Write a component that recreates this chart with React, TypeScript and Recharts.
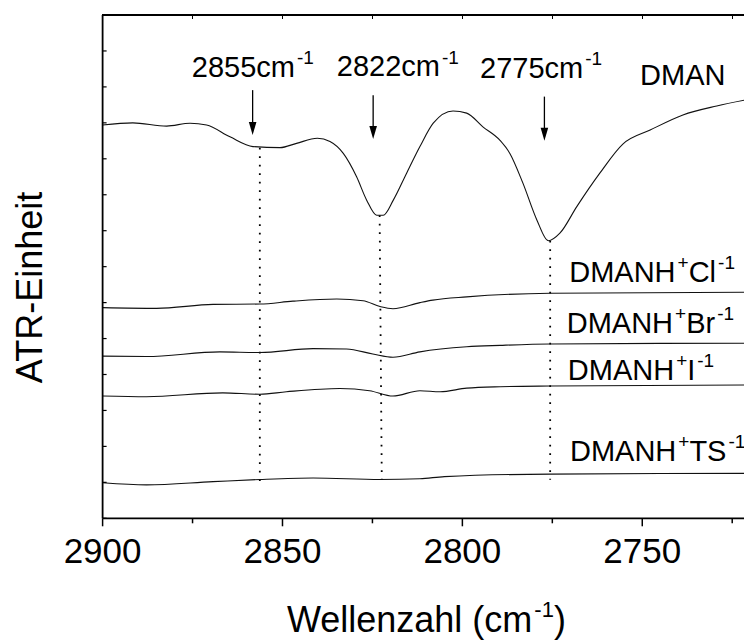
import React from "react";
import { LineChart, Line, XAxis, YAxis, ReferenceLine, ReferenceDot } from "recharts";

// ---------- data ----------
const dmanWavenumber = [2900, 2891.6, 2882.2, 2875.7, 2871.1, 2864.6, 2858.2, 2850.7, 2846.1, 2840.3, 2836.8, 2833.1, 2829.4, 2826.6, 2823.8, 2822.0, 2819.2, 2815.5, 2811.8, 2808.1, 2802.6, 2798.8, 2794.3, 2789.6, 2786.8, 2783.2, 2779.3, 2776.1, 2772.9, 2768.2, 2761.8, 2755.4, 2747.8, 2738.7, 2729.3, 2720];
const dmanValues = [10.94, 11.0, 10.91, 10.99, 10.94, 10.61, 10.34, 10.31, 10.43, 10.57, 10.48, 10.15, 9.5, 8.85, 8.43, 8.43, 8.85, 9.6, 10.34, 10.99, 11.33, 11.27, 10.89, 10.52, 10.15, 9.33, 8.3, 7.72, 7.93, 8.67, 9.6, 10.41, 10.8, 11.22, 11.47, 11.66];

const clWavenumber = [2900, 2885.0, 2869.3, 2856.3, 2847.1, 2834.9, 2827.6, 2822.9, 2819.3, 2811.8, 2808.2, 2798.8, 2775.6, 2720];
const clValues = [5.86, 5.84, 5.95, 5.96, 6.04, 6.1, 6.05, 5.89, 5.83, 6.0, 6.07, 6.16, 6.26, 6.29];

const brWavenumber = [2900, 2887.8, 2867.4, 2856.3, 2841.5, 2832.2, 2824.9, 2819.3, 2811.8, 2798.8, 2789.5, 2775.6, 2720];
const brValues = [4.51, 4.5, 4.63, 4.61, 4.72, 4.71, 4.57, 4.48, 4.63, 4.77, 4.81, 4.85, 4.87];

const iWavenumber = [2900, 2887.8, 2866.6, 2856.3, 2848.9, 2834.1, 2825.8, 2819.3, 2811.8, 2806.2, 2798.8, 2789.5, 2775.6, 2720];
const iValues = [3.4, 3.38, 3.49, 3.45, 3.52, 3.61, 3.55, 3.4, 3.55, 3.52, 3.62, 3.66, 3.68, 3.71];

const tsWavenumber = [2900, 2887.8, 2869.3, 2856.3, 2841.5, 2822.9, 2811.8, 2805.0, 2775.6, 2720];
const tsValues = [0.99, 0.93, 1.02, 1.08, 1.12, 1.08, 1.1, 1.16, 1.23, 1.25];

const xTicks = [2900, 2875, 2850, 2825, 2800, 2775, 2750, 2725];
const xMajorTicks = [2900, 2850, 2800, 2750];
const yTicks = [0, 1, 2, 3, 4, 5, 6, 7, 8, 9, 10, 11, 12, 13, 14];
const yMax = 14;
const xLeft = 2900;
const xRight = 2720;

// peak markers: wavenumber of arrow, arrow top, arrow tip, dotted line (x, top, bottom)
const peakArrowX = [2858.3, 2824.8, 2777.2];
const peakArrowTop = [11.91, 11.77, 11.73];
const peakArrowTip = [10.66, 10.55, 10.5];
const peakLineXTop = [2856.3, 2823.0, 2775.6];
const peakLineXBottom = [2856.3, 2822.4, 2775.6];
const peakLineTop = [10.31, 8.43, 7.72];
const peakLineBottom = [0.93, 1.07, 1.07];

// text labels: position (data coords), main text, superscripts
type Part = { t: string; sup?: boolean };
const labelX = [2875.2, 2834.9, 2795.1, 2750.6, 2770.3, 2771.0, 2770.7, 2770.1];
const labelY = [12.28, 12.3, 12.26, 12.05, 6.58, 5.16, 3.85, 1.6];
const labelParts: Part[][] = [
  [{ t: "2855cm" }, { t: "-1", sup: true }],
  [{ t: "2822cm" }, { t: "-1", sup: true }],
  [{ t: "2775cm" }, { t: "-1", sup: true }],
  [{ t: "DMAN" }],
  [{ t: "DMANH" }, { t: "+", sup: true }, { t: "Cl" }, { t: "-1", sup: true }],
  [{ t: "DMANH" }, { t: "+", sup: true }, { t: "Br" }, { t: "-1", sup: true }],
  [{ t: "DMANH" }, { t: "+", sup: true }, { t: "I" }, { t: "-1", sup: true }],
  [{ t: "DMANH" }, { t: "+", sup: true }, { t: "TS" }, { t: "-1", sup: true }],
];

const zip = (xs: number[], ys: number[]) => xs.map((w, i) => ({ w, v: ys[i] }));
const dmanData = zip(dmanWavenumber, dmanValues);
const clData = zip(clWavenumber, clValues);
const brData = zip(brWavenumber, brValues);
const iData = zip(iWavenumber, iValues);
const tsData = zip(tsWavenumber, tsValues);

const FONT = "'Liberation Sans', Arial, Helvetica, sans-serif";
const INK = "#000";

// chart layout
const CHART_W = 752;
const CHART_H = 640;
const PLOT_LEFT = 102.6;
const PLOT_TOP = 15;
const MARGIN_RIGHT = 1.8;
const PLOT_W = CHART_W - PLOT_LEFT - MARGIN_RIGHT;

function RichText({ x, y, parts, size, supSize, raise, anchor = "start" }: any) {
  const nodes: any[] = [];
  let up = false;
  parts.forEach((p: Part, i: number) => {
    let dy = 0;
    if (p.sup && !up) { dy = -raise; up = true; }
    else if (!p.sup && up) { dy = raise; up = false; }
    nodes.push(
      <tspan key={i} dy={dy} fontSize={p.sup ? supSize : size} dx={p.sup ? 2 : 0}>
        {p.t}
      </tspan>
    );
  });
  return (
    <text x={x} y={y} fontFamily={FONT} fontSize={size} fill={INK} textAnchor={anchor}>
      {nodes}
    </text>
  );
}

const BottomTick = (props: any) => {
  const { x, y, payload } = props;
  const major = xMajorTicks.includes(payload.value);
  return (
    <g>
      <line x1={x} y1={y} x2={x} y2={y + (major ? 8 : 5)} stroke={INK} strokeWidth={1.5} />
      {major && (
        <text x={x} y={y + 44.4} textAnchor="middle" fontFamily={FONT} fontSize={35} fill={INK}>
          {payload.value}
        </text>
      )}
    </g>
  );
};

const LeftTick = (props: any) => {
  const { x, y } = props;
  return <line x1={x} y1={y} x2={x + 4} y2={y} stroke={INK} strokeWidth={1.2} />;
};

const XLabel = (props: any) => {
  const vb = props.viewBox || {};
  const cx = vb.x + vb.width / 2;
  return (
    <RichText
      x={cx}
      y={631.7}
      anchor="middle"
      size={36}
      supSize={22}
      raise={15}
      parts={[{ t: "Wellenzahl (cm" }, { t: "-1", sup: true }, { t: ")" }]}
    />
  );
};

const YLabel = () => (
  <text
    x={42}
    y={287.5}
    transform="rotate(-90, 42, 287.5)"
    textAnchor="middle"
    fontFamily={FONT}
    fontSize={36}
    fill={INK}
  >
    ATR-Einheit
  </text>
);

const ArrowHead = (props: any) => {
  const { cx, cy } = props;
  return <polygon points={`${cx - 3.8},${cy - 13} ${cx + 3.8},${cy - 13} ${cx},${cy}`} fill={INK} />;
};

const makeLabelShape = (parts: Part[]) => (props: any) => (
  <RichText x={props.cx} y={props.cy} parts={parts} size={29} supSize={19} raise={12.5} />
);

// top frame of the plot box (mirrors the bottom axis, ticks pointing inward)
const topTickLeft = (t: number) => PLOT_LEFT + ((xLeft - t) / (xLeft - xRight)) * PLOT_W;

export default function App() {
  const lineProps = {
    xAxisId: "b",
    yAxisId: "l",
    dataKey: "v",
    type: "monotone" as const,
    stroke: "#111",
    strokeWidth: 1.1,
    dot: false,
    activeDot: false,
    isAnimationActive: false,
  };
  return (
    <div
      style={{
        position: "absolute",
        left: 0,
        top: 0,
        width: 744,
        height: 640,
        overflow: "hidden",
        background: "#fff",
      }}
    >
      <LineChart width={CHART_W} height={CHART_H} margin={{ top: PLOT_TOP, right: MARGIN_RIGHT, bottom: 0, left: 0 }}>
        <XAxis
          xAxisId="b"
          dataKey="w"
          type="number"
          domain={[xRight, xLeft]}
          reversed
          ticks={xTicks}
          interval={0}
          height={121.7}
          tickSize={0}
          tickMargin={0}
          tickLine={false}
          tick={<BottomTick />}
          axisLine={{ stroke: INK, strokeWidth: 1.8 }}
          label={<XLabel />}
        />
        <YAxis
          yAxisId="l"
          type="number"
          domain={[0, yMax]}
          ticks={yTicks}
          interval={0}
          width={PLOT_LEFT}
          tickSize={0}
          tickMargin={0}
          tickLine={false}
          tick={<LeftTick />}
          axisLine={{ stroke: INK, strokeWidth: 1.8 }}
          label={<YLabel />}
        />

        {peakLineTop.map((top, i) => (
          <ReferenceLine
            key={`dl${i}`}
            xAxisId="b"
            yAxisId="l"
            segment={[
              { x: peakLineXTop[i], y: top },
              { x: peakLineXBottom[i], y: peakLineBottom[i] },
            ]}
            stroke={INK}
            strokeWidth={1.8}
            strokeDasharray="1.8 6.7"
          />
        ))}

        <Line {...lineProps} data={dmanData} name="DMAN" />
        <Line {...lineProps} data={clData} name="Cl" />
        <Line {...lineProps} data={brData} name="Br" />
        <Line {...lineProps} data={iData} name="I" />
        <Line {...lineProps} data={tsData} name="TS" />

        {peakArrowX.map((w, i) => (
          <ReferenceLine
            key={`as${i}`}
            xAxisId="b"
            yAxisId="l"
            segment={[
              { x: w, y: peakArrowTop[i] },
              { x: w, y: peakArrowTip[i] + 0.3 },
            ]}
            stroke={INK}
            strokeWidth={1.3}
          />
        ))}
        {peakArrowX.map((w, i) => (
          <ReferenceDot
            key={`ah${i}`}
            xAxisId="b"
            yAxisId="l"
            x={w}
            y={peakArrowTip[i]}
            r={0}
            shape={<ArrowHead />}
          />
        ))}

        {labelParts.map((parts, i) => (
          <ReferenceDot
            key={`lb${i}`}
            xAxisId="b"
            yAxisId="l"
            x={labelX[i]}
            y={labelY[i]}
            r={0}
            shape={makeLabelShape(parts)}
          />
        ))}
      </LineChart>
      <div
        style={{
          position: "absolute",
          left: PLOT_LEFT - 0.9,
          top: PLOT_TOP - 0.9,
          width: PLOT_W + 2,
          height: 1.8,
          background: INK,
          zIndex: 5,
          pointerEvents: "none",
        }}
      />
      {xTicks.map((t) => (
        <div
          key={`tt${t}`}
          style={{
            position: "absolute",
            left: topTickLeft(t) - 0.6,
            top: PLOT_TOP,
            width: 1.2,
            height: 3.5,
            background: INK,
            zIndex: 5,
            pointerEvents: "none",
          }}
        />
      ))}
    </div>
  );
}
